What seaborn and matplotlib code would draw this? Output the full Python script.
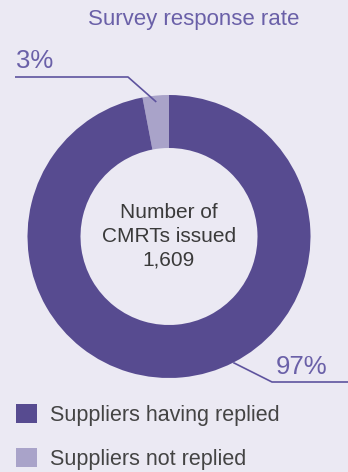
import numpy as np
import matplotlib
matplotlib.use("Agg")
import matplotlib.pyplot as plt
import seaborn as sns

# Survey data
categories = ["Suppliers not replied", "Suppliers having replied"]
shares = [3, 97]
pct_labels = ["3%", "97%"]
center_lines = ["Number of", "CMRTs issued", "1,609"]
title = "Survey response rate"

BG = "#ebe9f3"
DARK = "#574b90"
LIGHT = "#a9a3c9"
ACCENT = "#5e539e"
TEXT = "#3a3a3a"

sns.set_theme(style="white")
plt.rcParams["font.family"] = ["Liberation Sans", "DejaVu Sans"]

W, H, DPI = 348, 472, 100
fig = plt.figure(figsize=(W / DPI, H / DPI), dpi=DPI, facecolor=BG)
ax = fig.add_axes([0, 0, 1, 1])
ax.set_facecolor(BG)

palette = sns.color_palette([LIGHT, DARK])
cx, cy, R = 169, H - 236.5, 141.5
wedges, _ = ax.pie(shares, colors=palette, startangle=90, counterclock=True,
                   radius=R, center=(cx, cy), frame=True,
                   wedgeprops=dict(width=R - 88.5, linewidth=0))
ax.set_xlim(0, W)
ax.set_ylim(0, H)
ax.set_aspect("equal")
ax.axis("off")

def py(v):
    return H - v

# Title
ax.text(194, py(19), title, ha="center", va="center", fontsize=16, color="#6a60a8")

# Centre text
for line, yy in zip(center_lines, [212, 236, 260]):
    ax.text(cx, py(yy), line, ha="center", va="center", fontsize=15, color=TEXT)

# Leader lines anchored on the wedges
w3 = wedges[0]
a3 = np.deg2rad((w3.theta1 + w3.theta2) / 2)
p3 = (cx + 0.955 * R * np.cos(a3), cy + 0.955 * R * np.sin(a3))
ax.plot([15, 128, p3[0]], [py(77), py(77), p3[1]], color=ACCENT, lw=1.2,
        solid_capstyle="butt")
ax.text(16, py(61), pct_labels[0], ha="left", va="center", fontsize=18.5, color="#6a60a8")

a97 = np.deg2rad(-63)
p97 = (cx + R * np.cos(a97), cy + R * np.sin(a97))
ax.plot([p97[0], 272, W], [p97[1], py(382), py(382)], color=ACCENT, lw=1.2,
        solid_capstyle="butt")
ax.text(327, py(367), pct_labels[1], ha="right", va="center", fontsize=18.5, color="#6a60a8")

# Legend
leg = ax.legend(handles=[wedges[1], wedges[0]], labels=[categories[1], categories[0]],
                loc="upper left", bbox_to_anchor=(16 / W, 1 - 404 / H),
                frameon=False, fontsize=15.5, handlelength=0.98, handleheight=0.98,
                handletextpad=0.6, labelspacing=1.05, borderpad=0, borderaxespad=0)
for t in leg.get_texts():
    t.set_color("#444444")

fig.savefig("out.png", dpi=DPI, facecolor=BG)
